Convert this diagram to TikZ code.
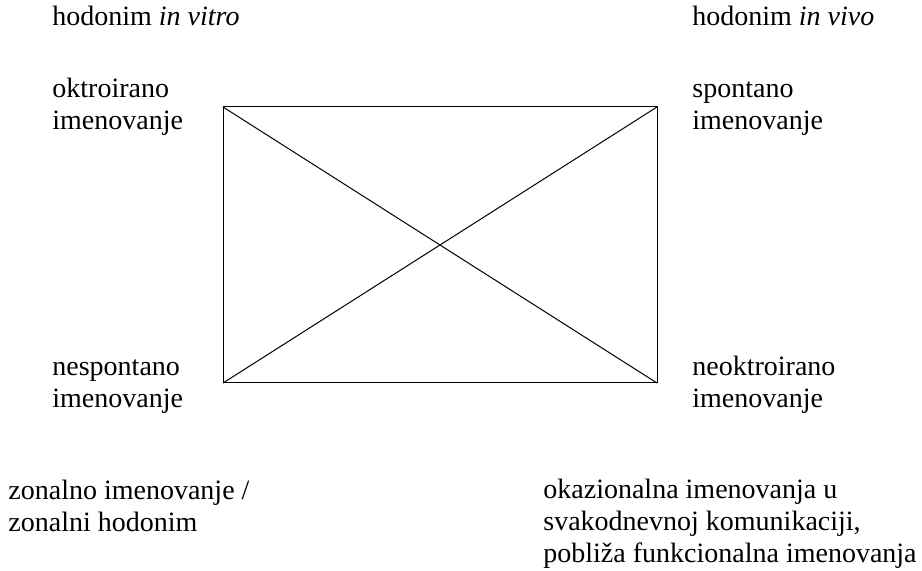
\documentclass[tikz,border=0pt]{standalone}
\usepackage{fontspec}
\setmainfont{Liberation Serif}

\begin{document}
\begin{tikzpicture}[x=0.5pt, y=-0.5pt,
  lbl/.style={anchor=base west, align=left, inner sep=0pt,
    font=\fontsize{14}{16.2}\selectfont}]

  % Page frame
  \useasboundingbox (0,0) rectangle (922,571);

  % Corners of the rectangle
  \coordinate (tl) at (223,107);
  \coordinate (tr) at (657,107);
  \coordinate (bl) at (223,383);
  \coordinate (br) at (657,383);

  % Rectangle and its two diagonals
  \draw[line width=0.5pt] (tl) rectangle (br);
  \draw[line width=0.5pt] (tl) -- (br);
  \draw[line width=0.5pt] (tr) -- (bl);

  % Headings above the corners
  \node[lbl] (vitro) at (52,26) {hodonim \textit{in vitro}};
  \node[lbl] (vivo) at (692,26) {hodonim \textit{in vivo}};

  % Labels beside the corners (base = last line)
  \node[lbl] (oktr) at (52,130) {oktroirano\\imenovanje};
  \node[lbl] (spont) at (692,130) {spontano\\imenovanje};
  \node[lbl] (nespont) at (52,408) {nespontano\\imenovanje};
  \node[lbl] (neoktr) at (692,408) {neoktroirano\\imenovanje};

  % Examples below
  \node[lbl] (zonal) at (8,532) {zonalno imenovanje /\\zonalni hodonim};
  \node[lbl] (okaz) at (543,563) {okazionalna imenovanja u\\svakodnevnoj komunikaciji,\\pobliža funkcionalna imenovanja};

\end{tikzpicture}
\end{document}
